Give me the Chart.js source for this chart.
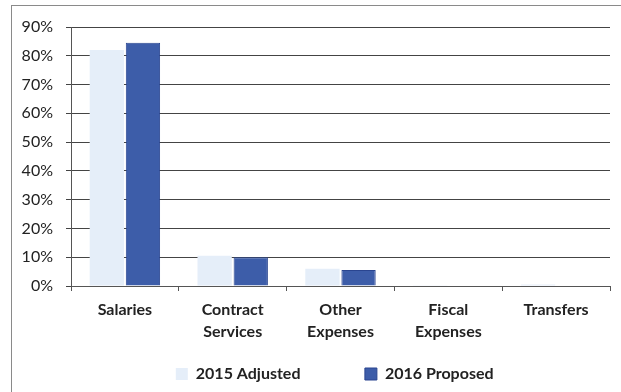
<!DOCTYPE html>
<html>
<head>
<meta charset="utf-8">
<script src="https://cdn.jsdelivr.net/npm/chart.js@4.4.1/dist/chart.umd.min.js"></script>
<style>
  html, body { margin: 0; padding: 0; background: #fff; }
  #wrap { position: relative; width: 621px; height: 392px; overflow: hidden; }
  #frame { position: absolute; left: 11px; top: 5px; width: 700px; height: 500px;
           border-left: 1px solid #8a8a8a; border-top: 1px solid #8a8a8a; }
  canvas { position: absolute; left: 0; top: 0; }
</style>
</head>
<body>
<div id="wrap">
  <div id="frame"></div>
  <canvas id="c" width="621" height="392"></canvas>
</div>
<script>
const categories = ['Salaries', ['Contract', 'Services'], ['Other', 'Expenses'], ['Fiscal', 'Expenses'], 'Transfers'];
const seriesNames = ['2015 Adjusted', '2016 Proposed'];
const adjusted2015 = [82, 10.5, 6, 0.3, 0.5];
const proposed2016 = [84.5, 10, 5.6, 0, 0];
const yTicks = [0, 10, 20, 30, 40, 50, 60, 70, 80, 90];

const LEGEND_FONT = 'bold 16px Lato';
// spacing of the legend entries as in the reference
const mctx = document.createElement('canvas').getContext('2d');
mctx.font = LEGEND_FONT;
const t1w = mctx.measureText(seriesNames[0]).width;
const t2w = mctx.measureText(seriesNames[1]).width;
const nbspW = mctx.measureText('\u00a0'.repeat(10)).width / 10;
const pad1 = '\u00a0'.repeat(Math.max(0, Math.round((180 - 20 - t1w) / nbspW)));
const pad2 = '\u00a0'.repeat(Math.max(0, Math.round((141 - 20 - t2w) / nbspW)));

new Chart(document.getElementById('c'), {
  type: 'bar',
  data: {
    labels: categories,
    datasets: [
      { label: seriesNames[0], data: adjusted2015, backgroundColor: '#e5eef9', borderWidth: 0,
        categoryPercentage: 0.67, barPercentage: 0.95 },
      { label: seriesNames[1], data: proposed2016, backgroundColor: '#3d5da9', borderColor: '#2a4590', borderWidth: 1,
        categoryPercentage: 0.67, barPercentage: 0.95 }
    ]
  },
  options: {
    responsive: false,
    animation: false,
    layout: { padding: { left: 0, right: 11, top: 27, bottom: 0 } },
    plugins: {
      tooltip: { enabled: false },
      legend: {
        position: 'bottom',
        fullSize: false,
        labels: {
          font: { family: 'Lato', size: 16, weight: 'bold' },
          color: '#222',
          boxWidth: 12, boxHeight: 12,
          padding: 10,
          generateLabels: (chart) => {
            const items = Chart.defaults.plugins.legend.labels.generateLabels(chart);
            items[0].text = items[0].text + pad1;
            items[1].text = items[1].text + pad2;
            return items;
          }
        }
      }
    },
    scales: {
      x: {
        grid: { display: true, drawOnChartArea: false, drawTicks: true, tickLength: 5, color: '#555', offset: true },
        border: { display: true, color: '#555', width: 1 },
        ticks: { font: { family: 'Lato', size: 16, weight: 'bold', lineHeight: 1.375 }, color: '#222', padding: 8, maxRotation: 0, autoSkip: false },
        afterFit: (s) => { s.height = 70; }
      },
      y: {
        min: 0, max: 90,
        afterBuildTicks: (s) => { s.ticks = yTicks.map(v => ({ value: v })); },
        grid: { color: '#444', lineWidth: 1, drawTicks: true, tickLength: 5 },
        border: { display: true, color: '#555', width: 1 },
        ticks: { font: { family: 'Lato', size: 16 }, color: '#222', padding: 13, callback: (v) => v + '%' },
        afterFit: (s) => { s.width = 71; }
      }
    }
  }
});
</script>
</body>
</html>
